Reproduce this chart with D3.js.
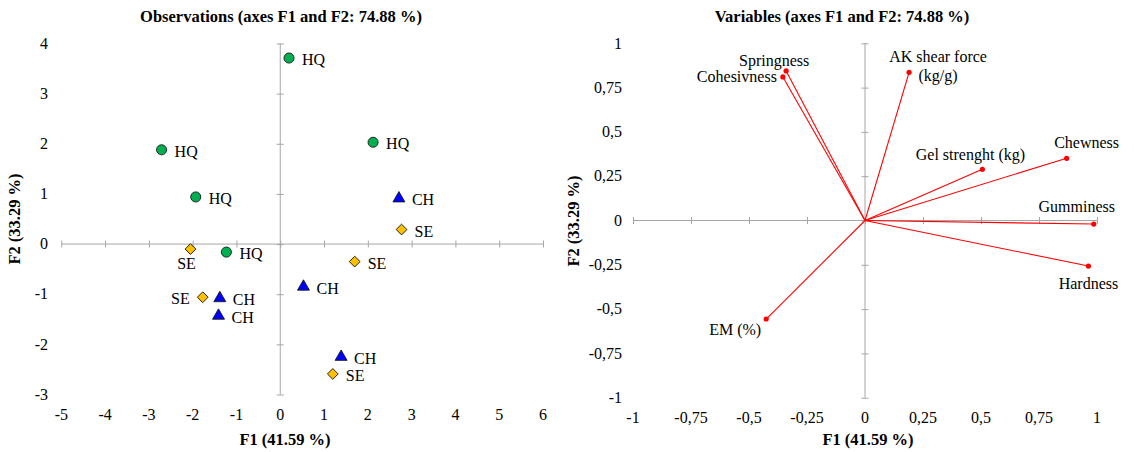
<!DOCTYPE html>
<html>
<head>
<meta charset="utf-8">
<script src="https://cdn.jsdelivr.net/npm/d3@7"></script>
<style>
	body { margin: 0; background: #fff; }
	text { font-family: "Liberation Serif", "Times New Roman", serif; }
</style>
</head>
<body>
<div id="chart"></div>
<script>
// observations (left panel)
const obsGroup = ['HQ', 'HQ', 'HQ', 'HQ', 'HQ', 'CH', 'SE', 'SE', 'SE', 'CH', 'SE', 'CH', 'CH', 'CH', 'SE'];
const obsF1 = [0.20, 2.12, -2.71, -1.93, -1.23, 2.71, 2.77, -2.05, 1.70, 0.53, -1.77, -1.38, -1.41, 1.39, 1.20];
const obsF2 = [3.71, 2.03, 1.88, 0.94, -0.16, 0.91, 0.29, -0.10, -0.35, -0.85, -1.06, -1.08, -1.43, -2.25, -2.59];
const obsLabelSide = ['right', 'right', 'right', 'right', 'right', 'right', 'right', 'below', 'right', 'right', 'left', 'right', 'right', 'right', 'right'];
const obsXTicks = [-5, -4, -3, -2, -1, 0, 1, 2, 3, 4, 5, 6];
const obsYTicks = [-3, -2, -1, 0, 1, 2, 3, 4];

// variables (right panel)
const varNames = ['Springness', 'Cohesivness', 'AK shear force\n(kg/g)', 'Gel strenght (kg)', 'Chewness', 'Gumminess', 'Hardness', 'EM (%)'];
const varF1 = [-0.34, -0.354, 0.19, 0.506, 0.869, 0.986, 0.963, -0.426];
const varF2 = [0.844, 0.81, 0.836, 0.289, 0.351, -0.02, -0.257, -0.556];
const varTicks = [-1, -0.75, -0.5, -0.25, 0, 0.25, 0.5, 0.75, 1];

const title = 'axes F1 and F2: 74.88 %';
const f1Title = 'F1 (41.59 %)';
const f2Title = 'F2 (33.29 %)';

const width = 1134, height = 452;
const axisGray = '#a6a6a6';
const fontSize = 16;
const titleSize = 16.5;

let svg = d3.select('#chart').append('svg')
	.attr('width', width)
	.attr('height', height)

let groupColor = { 'HQ': '#00b050', 'CH': '#0000ff', 'SE': '#ffc000' }
let groupSymbol = {
	'HQ': d3.symbol().type(d3.symbolCircle).size(80),
	'CH': d3.symbol().type(d3.symbolTriangle).size(62),
	'SE': d3.symbol().type(d3.symbolSquare).size(58)
}

function drawFrame(g, x, y, xTicks, yTicks, fmt, yLabelX, xLabelY) {
	// horizontal axis through y = 0
	let axX = g.append('g')
		.attr('transform', `translate(0, ${y(0)})`)
		.call(d3.axisBottom(x).tickValues(xTicks).tickSize(7).tickFormat(''))
	axX.select('.domain').attr('stroke', axisGray).attr('d', `M${x.range()[0]},0H${x.range()[1]}`)
	axX.selectAll('.tick line').attr('stroke', axisGray).attr('y1', -3.5).attr('y2', 3.5)

	// vertical axis through x = 0
	let axY = g.append('g')
		.attr('transform', `translate(${x(0)}, 0)`)
		.call(d3.axisLeft(y).tickValues(yTicks).tickSize(7).tickFormat(''))
	axY.select('.domain').attr('stroke', axisGray).attr('d', `M0,${y.range()[0]}V${y.range()[1]}`)
	axY.selectAll('.tick line').attr('stroke', axisGray).attr('x1', -3.5).attr('x2', 3.5)

	// tick labels sit at the panel edges
	g.append('g').selectAll('text')
		.data(xTicks)
		.enter()
		.append('text')
		.attr('x', d => x(d))
		.attr('y', xLabelY)
		.attr('text-anchor', 'middle')
		.attr('font-size', fontSize)
		.text(fmt)

	g.append('g').selectAll('text')
		.data(yTicks)
		.enter()
		.append('text')
		.attr('x', yLabelX)
		.attr('y', d => y(d))
		.attr('dy', '0.33em')
		.attr('text-anchor', 'end')
		.attr('font-size', fontSize)
		.text(fmt)
}

function drawTitles(g, cx, titleText, axisTitleX, f2x, f2y) {
	g.append('text')
		.attr('x', cx)
		.attr('y', 22)
		.attr('text-anchor', 'middle')
		.attr('font-size', titleSize)
		.attr('font-weight', 'bold')
		.text(titleText)
	g.append('text')
		.attr('x', axisTitleX)
		.attr('y', 445)
		.attr('text-anchor', 'middle')
		.attr('font-size', titleSize)
		.attr('font-weight', 'bold')
		.text(f1Title)
	g.append('text')
		.attr('transform', `translate(${f2x}, ${f2y}) rotate(-90)`)
		.attr('text-anchor', 'middle')
		.attr('font-size', titleSize)
		.attr('font-weight', 'bold')
		.text(f2Title)
}

// ---------- left: observations ----------
let left = svg.append('g').classed('observations', true)
let xL = d3.scaleLinear().domain([-5, 6]).range([61.3, 543])
let yL = d3.scaleLinear().domain([-3, 4]).range([394.5, 43.5])

drawFrame(left, xL, yL, obsXTicks, obsYTicks, d => d, 48, 420)
drawTitles(left, 281, 'Observations (' + title + ')', 285, 20, 219)

let obs = obsGroup.map((grp, i) => ({ grp: grp, f1: obsF1[i], f2: obsF2[i], side: obsLabelSide[i] }))

let pts = left.selectAll('.pt')
	.data(obs)
	.enter()
	.append('g')
	.attr('class', 'pt')
	.attr('transform', d => `translate(${xL(d.f1)}, ${yL(d.f2)})`)

pts.append('path')
	.attr('d', d => groupSymbol[d.grp]())
	.attr('transform', d => d.grp === 'SE' ? 'rotate(45)' : null)
	.attr('fill', d => groupColor[d.grp])
	.attr('stroke', '#1a1a1a')
	.attr('stroke-width', 0.9)

pts.append('text')
	.attr('x', d => d.side === 'right' ? 13 : d.side === 'left' ? -13 : -4)
	.attr('y', d => d.side === 'below' ? 20 : 7)
	.attr('text-anchor', d => d.side === 'right' ? 'start' : d.side === 'left' ? 'end' : 'middle')
	.attr('font-size', fontSize)
	.text(d => d.grp)

// ---------- right: variables ----------
let right = svg.append('g').classed('variables', true)
let xR = d3.scaleLinear().domain([-1, 1]).range([633, 1097])
let yR = d3.scaleLinear().domain([-1, 1]).range([397.7, 43.3])
let comma = d => String(d).replace('.', ',')

drawFrame(right, xR, yR, varTicks, varTicks, comma, 622, 423)
drawTitles(right, 842, 'Variables (' + title + ')', 868, 579, 221)

// label offsets from the arrow tip: [dx, dy, anchor]
let varLabelPos = [[-12, -5, 'middle'], [-6, 5, 'end'], [29, -10, 'middle'], [-12, -9, 'middle'],
	[20, -10, 'middle'], [-17, -12, 'middle'], [0, 23, 'middle'], [-31, 16, 'middle']]

let vars = varNames.map((n, i) => ({ name: n, f1: varF1[i], f2: varF2[i], pos: varLabelPos[i] }))

right.selectAll('.vec')
	.data(vars)
	.enter()
	.append('line')
	.attr('class', 'vec')
	.attr('x1', xR(0))
	.attr('y1', yR(0))
	.attr('x2', d => xR(d.f1))
	.attr('y2', d => yR(d.f2))
	.attr('stroke', '#ff0000')
	.attr('stroke-width', 1.1)

right.selectAll('.tip')
	.data(vars)
	.enter()
	.append('circle')
	.attr('class', 'tip')
	.attr('cx', d => xR(d.f1))
	.attr('cy', d => yR(d.f2))
	.attr('r', 2.6)
	.attr('fill', '#ff0000')

let vlab = right.selectAll('.vlab')
	.data(vars)
	.enter()
	.append('text')
	.attr('class', 'vlab')
	.attr('x', d => xR(d.f1) + d.pos[0])
	.attr('y', d => yR(d.f2) + d.pos[1])
	.attr('text-anchor', d => d.pos[2])
	.attr('font-size', fontSize)

vlab.selectAll('tspan')
	.data(d => d.name.split('\n').map(s => ({ s: s, x: xR(d.f1) + d.pos[0] })))
	.enter()
	.append('tspan')
	.attr('x', t => t.x)
	.attr('dy', (t, i) => i === 0 ? 0 : 19)
	.text(t => t.s)
</script>
</body>
</html>
